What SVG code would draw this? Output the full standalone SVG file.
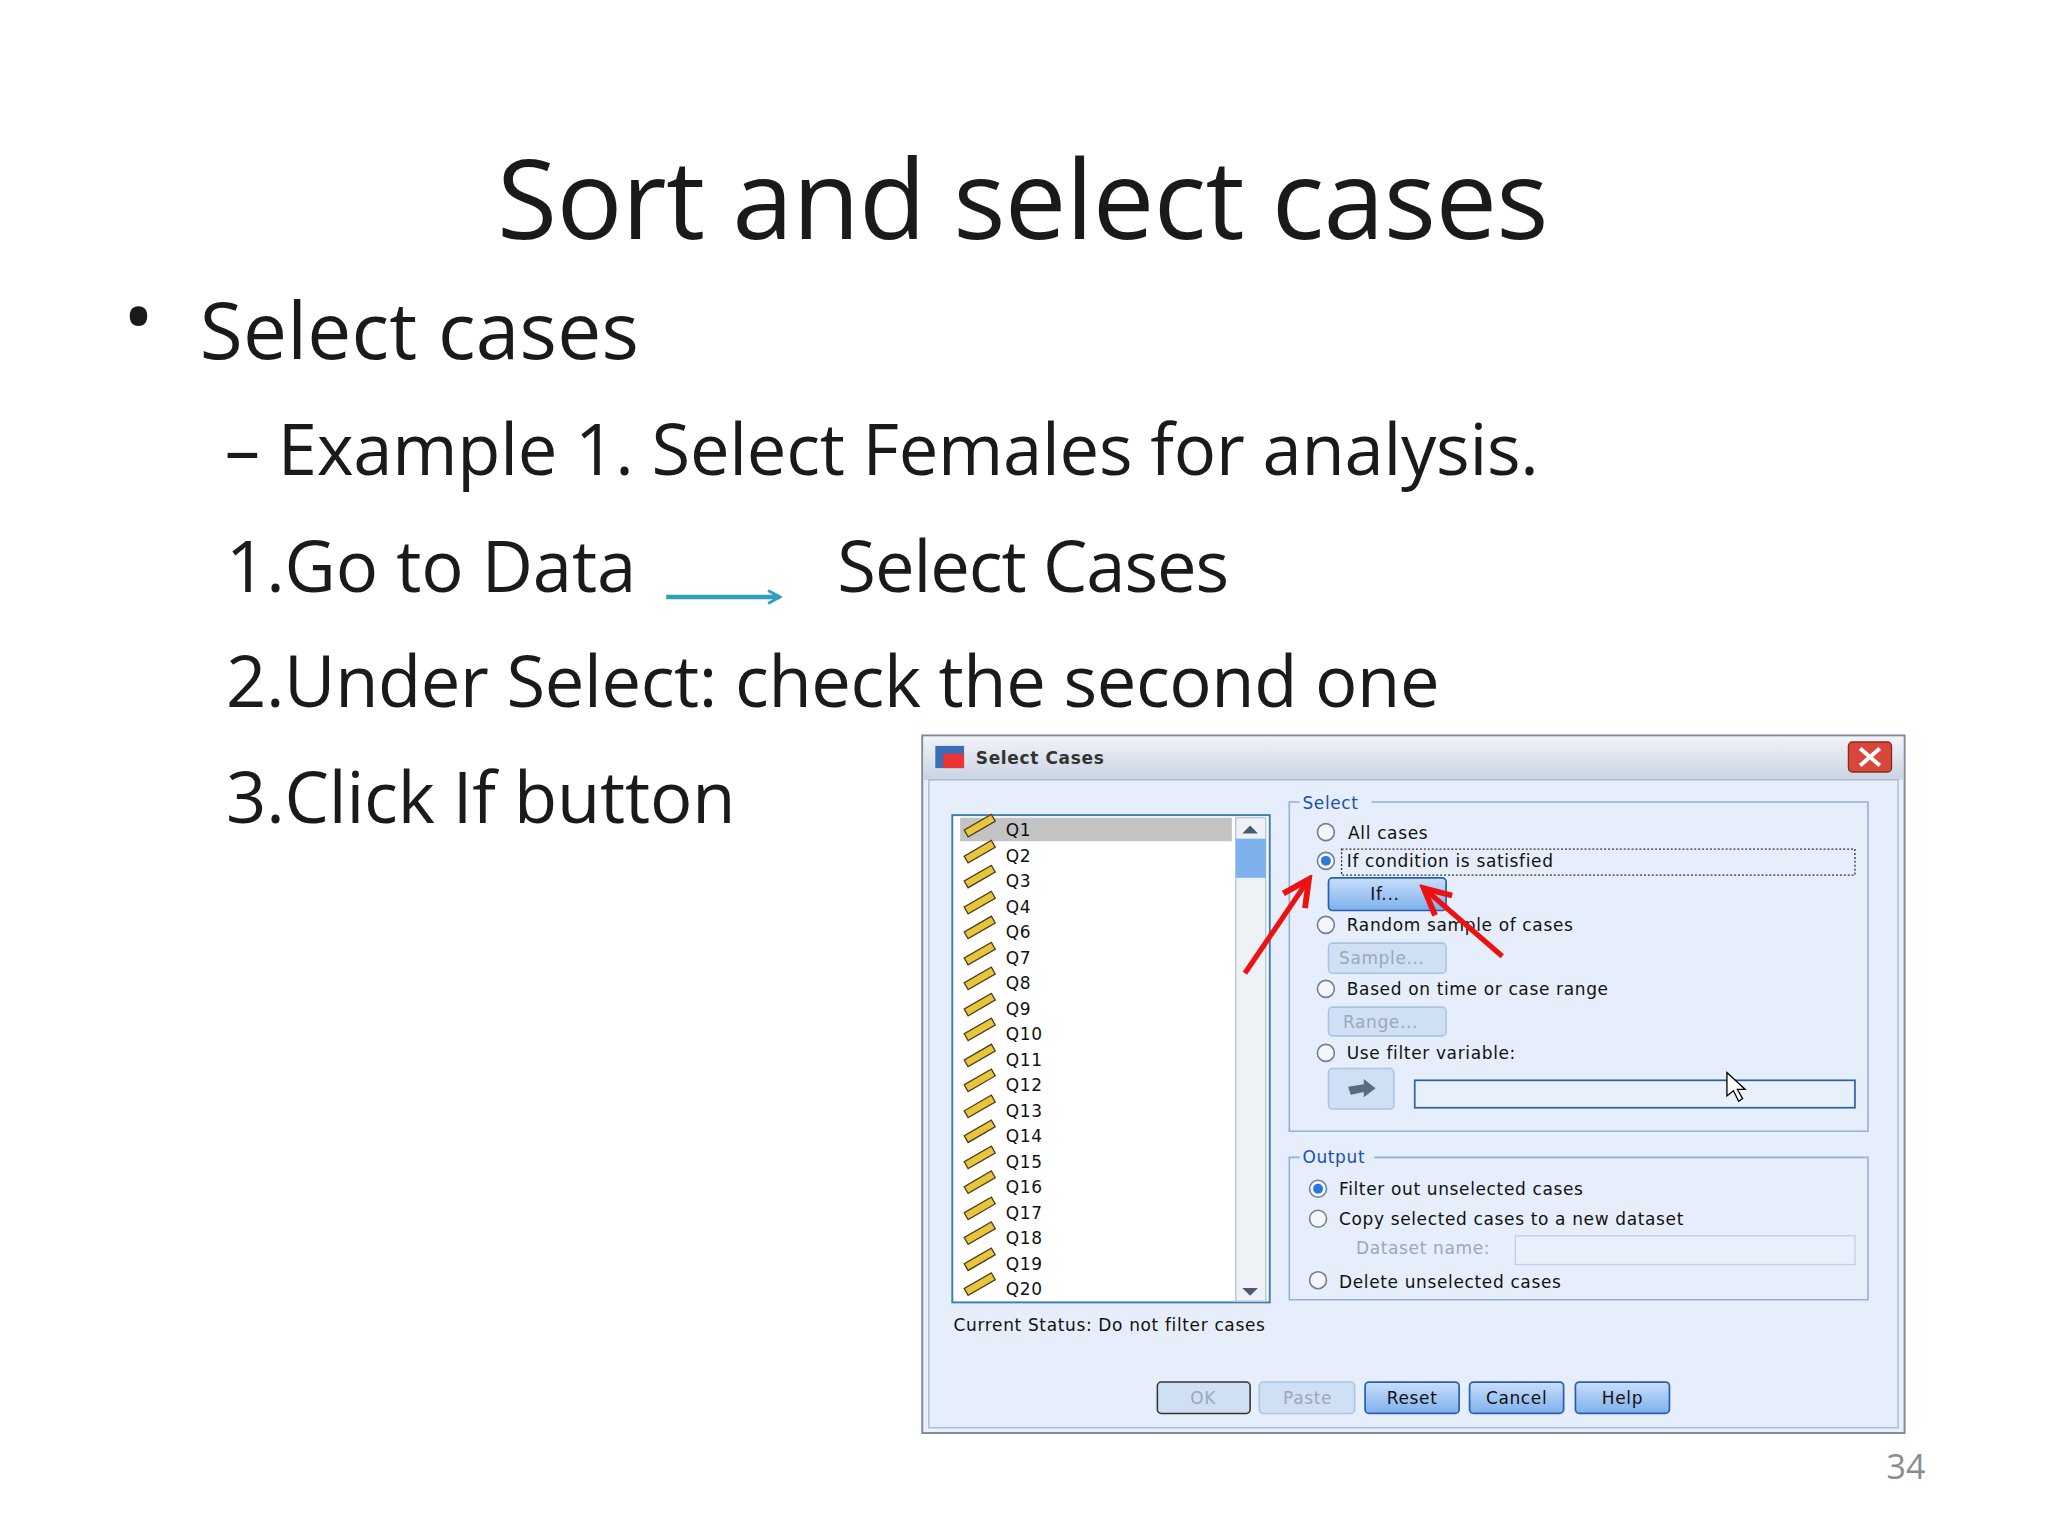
<svg xmlns="http://www.w3.org/2000/svg" width="2048" height="1536" viewBox="0 0 2048 1536">
<defs>
<style>
.sl{font-family:"Open Sans","Noto Sans","Liberation Sans",sans-serif;fill:#1a1a1a}
.d{font-family:"DejaVu Sans","Liberation Sans",sans-serif;font-size:13px;letter-spacing:0.5px;fill:#111}
.g{fill:#9aa8b8}
.lb{fill:#2050b0}
.btn{fill:url(#bg);stroke:#2b5fa8;stroke-width:1.3}
.dis{fill:#cfe0f5;stroke:#a8c4e6;stroke-width:1.2}
.rad{fill:#f4f6f8;stroke:#6e7f93;stroke-width:1.2}
.grp{fill:none;stroke:#8fb0d8;stroke-width:1.2}
</style>
<linearGradient id="bg" x1="0" y1="0" x2="0" y2="1"><stop offset="0" stop-color="#c9defa"/><stop offset="1" stop-color="#7fb0ee"/></linearGradient>
<linearGradient id="tb" x1="0" y1="0" x2="0" y2="1"><stop offset="0" stop-color="#f2f4f8"/><stop offset="1" stop-color="#c9d3e2"/></linearGradient>
<marker id="ta" markerWidth="12" markerHeight="12" refX="10" refY="6" orient="auto" markerUnits="userSpaceOnUse"><path d="M1,1 L10,6 L1,11" fill="none" stroke="#2e9fbf" stroke-width="2.2"/></marker>
<marker id="ra" markerWidth="26" markerHeight="26" refX="22" refY="13" orient="auto" markerUnits="userSpaceOnUse"><path d="M2,3 L22,13 L2,23" fill="none" stroke="#ee1111" stroke-width="4.5"/></marker>
<g id="ruler"><rect x="-12" y="-3" width="24" height="6" fill="#e8c53a" stroke="#4a4020" stroke-width="1" transform="rotate(-30)"/></g>
</defs>
<rect width="2048" height="1536" fill="#fff"/>
<g transform="scale(1.3063)">
<g id="text">
<text class="sl" x="783" y="183" font-size="84" text-anchor="middle" textLength="805">Sort and select cases</text>
<text class="sl" x="94" y="266" font-size="64">•</text>
<text class="sl" x="153" y="275" font-size="60" textLength="336">Select cases</text>
<text class="sl" x="172" y="364" font-size="54" textLength="1006">– Example 1. Select Females for analysis.</text>
<text class="sl" x="173" y="453" font-size="54" textLength="314">1.Go to Data</text>
<text class="sl" x="641" y="453" font-size="54" textLength="300">Select Cases</text>
<text class="sl" x="173" y="541" font-size="54" textLength="929">2.Under Select: check the second one</text>
<text class="sl" x="173" y="630" font-size="54" textLength="390">3.Click If button</text>
<text class="sl" x="1459" y="1132" font-size="26" text-anchor="middle" style="fill:#8c8c8c">34</text>
</g>
<g id="connectors">
<line x1="510" y1="457" x2="597" y2="457" stroke="#2e9fbf" stroke-width="3.5" marker-end="url(#ta)"/>
</g>
<g id="dialog">
<rect x="706" y="563" width="752" height="534" fill="#e8f0fb" stroke="#7f8a99" stroke-width="1.5"/>
<rect x="707" y="564" width="750" height="33" fill="url(#tb)"/>
<rect x="711" y="597" width="742" height="496" fill="#e6eefb" stroke="#a6b8d0" stroke-width="1"/>
<rect x="716" y="571" width="22" height="17" fill="#3a6fb8"/><rect x="722" y="577" width="16" height="11" fill="#e33"/>
<text class="d" x="747" y="585" font-weight="bold" font-size="14" style="fill:#333">Select Cases</text>
<rect x="1415" y="568" width="33" height="23" rx="3" fill="#d9473a" stroke="#8a2a20"/>
<path d="M1424,573 L1439,586 M1439,573 L1424,586" stroke="#fff" stroke-width="3"/>
<rect x="729" y="624" width="243" height="373" fill="#fff" stroke="#3c7fb1" stroke-width="1.5"/>
<rect x="735" y="626" width="208" height="18" fill="#c3c3c3"/>
<rect x="946" y="626" width="23" height="370" fill="#eef2f7" stroke="#b8c4d4"/>
<rect x="946" y="642" width="23" height="30" fill="#7fb0ee"/>
<path d="M951,638 L957,632 L963,638Z M951,986 L957,992 L963,986Z" fill="#4a5a70"/>
<g class="d">
<use href="#ruler" x="750" y="632"/><text x="770" y="640">Q1</text>
<use href="#ruler" x="750" y="652"/><text x="770" y="660">Q2</text>
<use href="#ruler" x="750" y="671"/><text x="770" y="679">Q3</text>
<use href="#ruler" x="750" y="691"/><text x="770" y="699">Q4</text>
<use href="#ruler" x="750" y="710"/><text x="770" y="718">Q6</text>
<use href="#ruler" x="750" y="730"/><text x="770" y="738">Q7</text>
<use href="#ruler" x="750" y="749"/><text x="770" y="757">Q8</text>
<use href="#ruler" x="750" y="769"/><text x="770" y="777">Q9</text>
<use href="#ruler" x="750" y="788"/><text x="770" y="796">Q10</text>
<use href="#ruler" x="750" y="808"/><text x="770" y="816">Q11</text>
<use href="#ruler" x="750" y="827"/><text x="770" y="835">Q12</text>
<use href="#ruler" x="750" y="847"/><text x="770" y="855">Q13</text>
<use href="#ruler" x="750" y="866"/><text x="770" y="874">Q14</text>
<use href="#ruler" x="750" y="886"/><text x="770" y="894">Q15</text>
<use href="#ruler" x="750" y="905"/><text x="770" y="913">Q16</text>
<use href="#ruler" x="750" y="925"/><text x="770" y="933">Q17</text>
<use href="#ruler" x="750" y="944"/><text x="770" y="952">Q18</text>
<use href="#ruler" x="750" y="964"/><text x="770" y="972">Q19</text>
<use href="#ruler" x="750" y="983"/><text x="770" y="991">Q20</text>
</g>
<path class="grp" d="M995,614 L987,614 L987,866 L1430,866 L1430,614 L1050,614"/>
<text class="d lb" x="997" y="619">Select</text>
<circle class="rad" cx="1015" cy="637" r="6.5"/>
<circle class="rad" cx="1015" cy="659" r="6.5"/><circle cx="1015" cy="659" r="3.8" fill="#2c78d6"/>
<circle class="rad" cx="1015" cy="708" r="6.5"/>
<circle class="rad" cx="1015" cy="757" r="6.5"/>
<circle class="rad" cx="1015" cy="806" r="6.5"/>
<text class="d" x="1032" y="642">All cases</text>
<rect x="1027" y="650" width="393" height="20" fill="none" stroke="#333" stroke-width="1" stroke-dasharray="1.5,1.5"/>
<text class="d" x="1031" y="664">If condition is satisfied</text>
<rect class="btn" x="1017" y="672" width="90" height="25" rx="3"/>
<text class="d" x="1049" y="689">If...</text>
<text class="d" x="1031" y="713">Random sample of cases</text>
<rect class="dis" x="1017" y="722" width="90" height="23" rx="3"/>
<text class="d g" x="1025" y="738">Sample...</text>
<text class="d" x="1031" y="762">Based on time or case range</text>
<rect class="dis" x="1017" y="771" width="90" height="22" rx="3"/>
<text class="d g" x="1028" y="787">Range...</text>
<text class="d" x="1031" y="811">Use filter variable:</text>
<rect class="dis" x="1017" y="818" width="50" height="31" rx="3"/>
<path d="M1032,832 L1044,830 L1044,826 L1053,833 L1044,840 L1044,836 L1034,838Z" fill="#5a6a80"/>
<rect x="1083" y="827" width="337" height="21" fill="#e8f0fb" stroke="#2b5fa8" stroke-width="1.3"/>
<path d="M1322,821 L1322,839 L1327,835 L1331,843 L1334,841 L1330,834 L1336,834Z" fill="#fff" stroke="#000" stroke-width="1"/>
<path class="grp" d="M995,886 L987,886 L987,995 L1430,995 L1430,886 L1052,886"/>
<text class="d lb" x="997" y="890">Output</text>
<circle class="rad" cx="1009" cy="910" r="6.5"/><circle cx="1009" cy="910" r="3.8" fill="#2c78d6"/>
<circle class="rad" cx="1009" cy="933" r="6.5"/>
<circle class="rad" cx="1009" cy="980" r="6.5"/>
<text class="d" x="1025" y="915">Filter out unselected cases</text>
<text class="d" x="1025" y="938">Copy selected cases to a new dataset</text>
<text class="d g" x="1038" y="960">Dataset name:</text>
<rect x="1160" y="946" width="260" height="22" fill="#e8f0fb" stroke="#c3cfdd"/>
<text class="d" x="1025" y="986">Delete unselected cases</text>
<text class="d" x="730" y="1019">Current Status: Do not filter cases</text>
<rect x="886" y="1058" width="71" height="24" rx="3" fill="#cfe0f5" stroke="#333" stroke-width="1.2"/>
<text class="d g" x="921" y="1075" text-anchor="middle">OK</text>
<rect class="dis" x="964" y="1058" width="73" height="24" rx="3"/>
<text class="d g" x="1001" y="1075" text-anchor="middle">Paste</text>
<rect class="btn" x="1045" y="1058" width="72" height="24" rx="3"/>
<text class="d" x="1081" y="1075" text-anchor="middle">Reset</text>
<rect class="btn" x="1125" y="1058" width="72" height="24" rx="3"/>
<text class="d" x="1161" y="1075" text-anchor="middle">Cancel</text>
<rect class="btn" x="1206" y="1058" width="72" height="24" rx="3"/>
<text class="d" x="1242" y="1075" text-anchor="middle">Help</text>
</g>
<g id="red-arrows">
<line x1="953" y1="745" x2="1002" y2="673" stroke="#ee1111" stroke-width="4" marker-end="url(#ra)"/>
<line x1="1150" y1="732" x2="1090" y2="680" stroke="#ee1111" stroke-width="4" marker-end="url(#ra)"/>
</g>
</g>
</svg>
